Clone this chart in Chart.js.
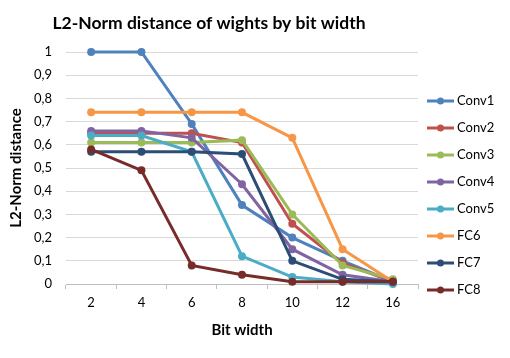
<!DOCTYPE html>
<html>
<head>
<meta charset="utf-8">
<script src="https://cdn.jsdelivr.net/npm/chart.js@4/dist/chart.umd.min.js"></script>
<style>
  html, body { margin: 0; padding: 0; background: #fff; }
  #wrap { width: 510px; height: 358px; }
</style>
</head>
<body>
<div id="wrap"><canvas id="myChart" width="510" height="358"></canvas></div>
<script>
const bitWidths = ['2', '4', '6', '8', '10', '12', '16'];
const seriesNames = ['Conv1', 'Conv2', 'Conv3', 'Conv4', 'Conv5', 'FC6', 'FC7', 'FC8'];
const conv1 = [1, 1, 0.69, 0.34, 0.2, 0.1, 0.01];
const conv2 = [0.65, 0.65, 0.65, 0.61, 0.26, 0.09, 0.01];
const conv3 = [0.61, 0.61, 0.61, 0.62, 0.3, 0.08, 0.02];
const conv4 = [0.66, 0.66, 0.63, 0.43, 0.15, 0.04, 0.01];
const conv5 = [0.64, 0.64, 0.57, 0.12, 0.03, 0.01, 0.0];
const fc6 = [0.74, 0.74, 0.74, 0.74, 0.63, 0.15, 0.01];
const fc7 = [0.57, 0.57, 0.57, 0.56, 0.1, 0.02, 0.01];
const fc8 = [0.58, 0.49, 0.08, 0.04, 0.01, 0.01, 0.01];
const colors = ['#4F81BD', '#C0504D', '#9BBB59', '#8064A2', '#4BACC6', '#F79646', '#2C4D75', '#772C2A'];

const allValues = [conv1, conv2, conv3, conv4, conv5, fc6, fc7, fc8];
const fontFam = 'Lato, "Open Sans", sans-serif';

// legend drawn by hand: short line with a dot, like the office style
const lineLegend = {
  id: 'lineLegend',
  afterDraw(chart) {
    const c = chart.ctx;
    c.save();
    chart.data.datasets.forEach((ds, i) => {
      const y = 101 + i * 27;
      c.strokeStyle = ds.borderColor;
      c.lineWidth = 3;
      c.beginPath();
      c.moveTo(427, y);
      c.lineTo(454, y);
      c.stroke();
      c.fillStyle = ds.borderColor;
      c.beginPath();
      c.arc(440.5, y, 3.5, 0, Math.PI * 2);
      c.fill();
      c.fillStyle = '#000';
      c.font = '13px ' + fontFam;
      c.textBaseline = 'middle';
      c.textAlign = 'left';
      c.fillText(ds.label, 457, y);
    });
    c.restore();
  }
};

const datasets = seriesNames.map((name, i) => ({
  label: name,
  data: allValues[i],
  borderColor: colors[i],
  backgroundColor: colors[i],
  borderWidth: 3,
  pointRadius: 4,
  pointBorderWidth: 0,
  pointBackgroundColor: colors[i],
  tension: 0,
  clip: false,
  order: seriesNames.length - i
}));

const ctx = document.getElementById('myChart').getContext('2d');
const chart = new Chart(ctx, {
  type: 'line',
  data: { labels: bitWidths, datasets: datasets },
  plugins: [lineLegend],
  options: {
    responsive: false,
    animation: false,
    layout: { padding: { left: 0, right: 92, top: 0, bottom: 19 } },
    plugins: {
      legend: { display: false },
      tooltip: { enabled: false },
      title: {
        display: true,
        text: 'L2-Norm distance of wights by bit width',
        color: '#000',
        font: { family: fontFam, size: 17.5, weight: 'bold' },
        padding: { top: 13, bottom: 18 }
      }
    },
    scales: {
      x: {
        offset: true,
        grid: { drawOnChartArea: false, tickLength: 5, color: '#bfbfbf', offset: true },
        border: { color: '#bfbfbf' },
        ticks: { color: '#000', font: { family: fontFam, size: 13 }, padding: 6 },
        title: {
          display: true, text: 'Bit width', color: '#000',
          font: { family: fontFam, size: 15, weight: 'bold' }, padding: { top: 6, bottom: 0 }
        },
        afterFit: s => { s.height = 55; }
      },
      y: {
        min: 0, max: 1,
        grid: { color: '#d9d9d9', drawTicks: false },
        border: { display: false },
        ticks: {
          stepSize: 0.1, color: '#000', padding: 14,
          font: { family: fontFam, size: 13 },
          callback: v => (Math.round(v * 10) / 10).toString().replace('.', ',')
        },
        title: {
          display: true, text: 'L2-Norm distance', color: '#000',
          font: { family: fontFam, size: 15, weight: 'bold' }, padding: { top: 7, bottom: 0 }
        },
        afterFit: s => { s.width = 66; }
      }
    }
  }
});
</script>
</body>
</html>
